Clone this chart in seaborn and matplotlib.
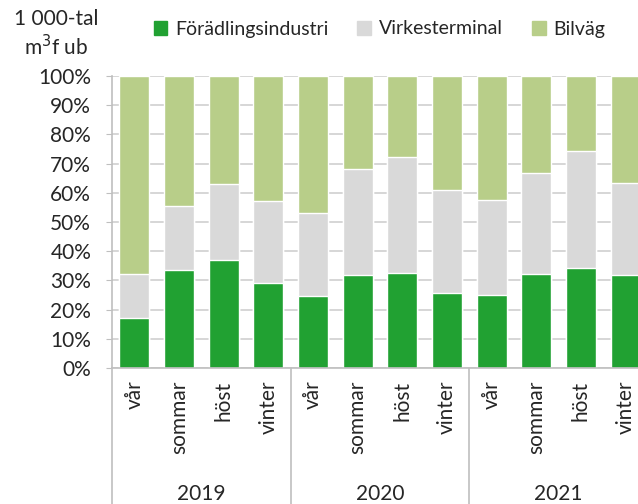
import numpy as np
import pandas as pd
import seaborn as sns
from matplotlib import pyplot as plt
from matplotlib.patches import Patch

years = ["2019", "2020", "2021"]
seasons = ["vår", "sommar", "höst", "vinter"]
# andel i procent per säsong
foradling = [17.2, 33.4, 37.0, 29.0, 24.7, 31.7, 32.5, 25.6, 25.1, 32.2, 34.3, 31.7]
virkesterminal = [14.9, 22.1, 25.9, 28.2, 28.5, 36.5, 39.7, 35.5, 32.4, 34.7, 40.0, 31.7]
bilvag = [67.9, 44.5, 37.1, 42.8, 46.8, 31.8, 27.8, 38.9, 42.5, 33.1, 25.7, 36.6]

c_green = "#21A132"
c_gray = "#D9D9D9"
c_light = "#B8CE89"

keys = [f"{y} {s}" for y in years for s in seasons]
df = pd.DataFrame(
    {
        "key": keys,
        "Förädlingsindustri": foradling,
        "Virkesterminal": virkesterminal,
        "Bilväg": bilvag,
    }
)
df["top_gray"] = df["Förädlingsindustri"] + df["Virkesterminal"]
df["top_all"] = df["top_gray"] + df["Bilväg"]

sns.set_style("white")
plt.rcParams["font.family"] = ["Lato", "DejaVu Sans"]
plt.rcParams["font.size"] = 15

fig = plt.figure(figsize=(6.38, 5.04), dpi=100)
ax = fig.add_axes([112 / 638, 1 - 368 / 504, 536 / 638, 292 / 504])

w = 0.67
sns.barplot(df, x="key", y="top_all", order=keys, color=c_light, width=w,
            saturation=1, ax=ax, zorder=2)
sns.barplot(df, x="key", y="top_gray", order=keys, color=c_gray, width=w,
            saturation=1, ax=ax, zorder=2)
sns.barplot(df, x="key", y="Förädlingsindustri", order=keys, color=c_green,
            width=w, saturation=1, ax=ax, zorder=2)

ax.set_xlim(-0.5, 11.5)
ax.set_ylim(0, 100)
ax.set_yticks(np.arange(0, 101, 10))
ax.set_yticklabels([f"{v}%" for v in range(0, 101, 10)], color="#262626")
ax.yaxis.grid(True, color="#D0D0D0", lw=1.2, zorder=0)
ax.set_xlabel("")
ax.set_ylabel("")
ax.set_xticks(range(len(keys)))
ax.set_xticklabels(seasons * len(years), rotation=90, va="top", color="#262626")
ax.tick_params(axis="x", length=0, pad=9)
ax.tick_params(axis="y", length=4, color="#BFBFBF", left=True, pad=11)
for s in ["top", "right"]:
    ax.spines[s].set_visible(False)
for s in ["left", "bottom"]:
    ax.spines[s].set_color("#BFBFBF")
    ax.spines[s].set_linewidth(1.2)

# gruppavgränsare och årtal under axeln
for i, y in enumerate(years):
    left = i * len(seasons) - 0.5
    ax.plot([left, left], [0, -0.47], transform=ax.get_xaxis_transform(),
            color="#BFBFBF", lw=1.2, clip_on=False)
    ax.text(left + len(seasons) / 2, -0.43, y, transform=ax.get_xaxis_transform(),
            ha="center", va="center", color="#262626")

fig.text(56 / 638, 1 - 34 / 504, "1 000-tal\nm$^3$f ub", ha="center", va="center",
         color="#262626", linespacing=1.25)

handles = [Patch(color=c_green), Patch(color=c_gray), Patch(color=c_light)]
fig.legend(handles, ["Förädlingsindustri", "Virkesterminal", "Bilväg"],
           loc="center left", bbox_to_anchor=(136 / 638, 1 - 29 / 504), ncol=3,
           frameon=False, handlelength=0.7, handleheight=0.7, handletextpad=0.4,
           columnspacing=1.5, labelcolor="#262626", fontsize=14)

fig.savefig("out.png", dpi=100)
